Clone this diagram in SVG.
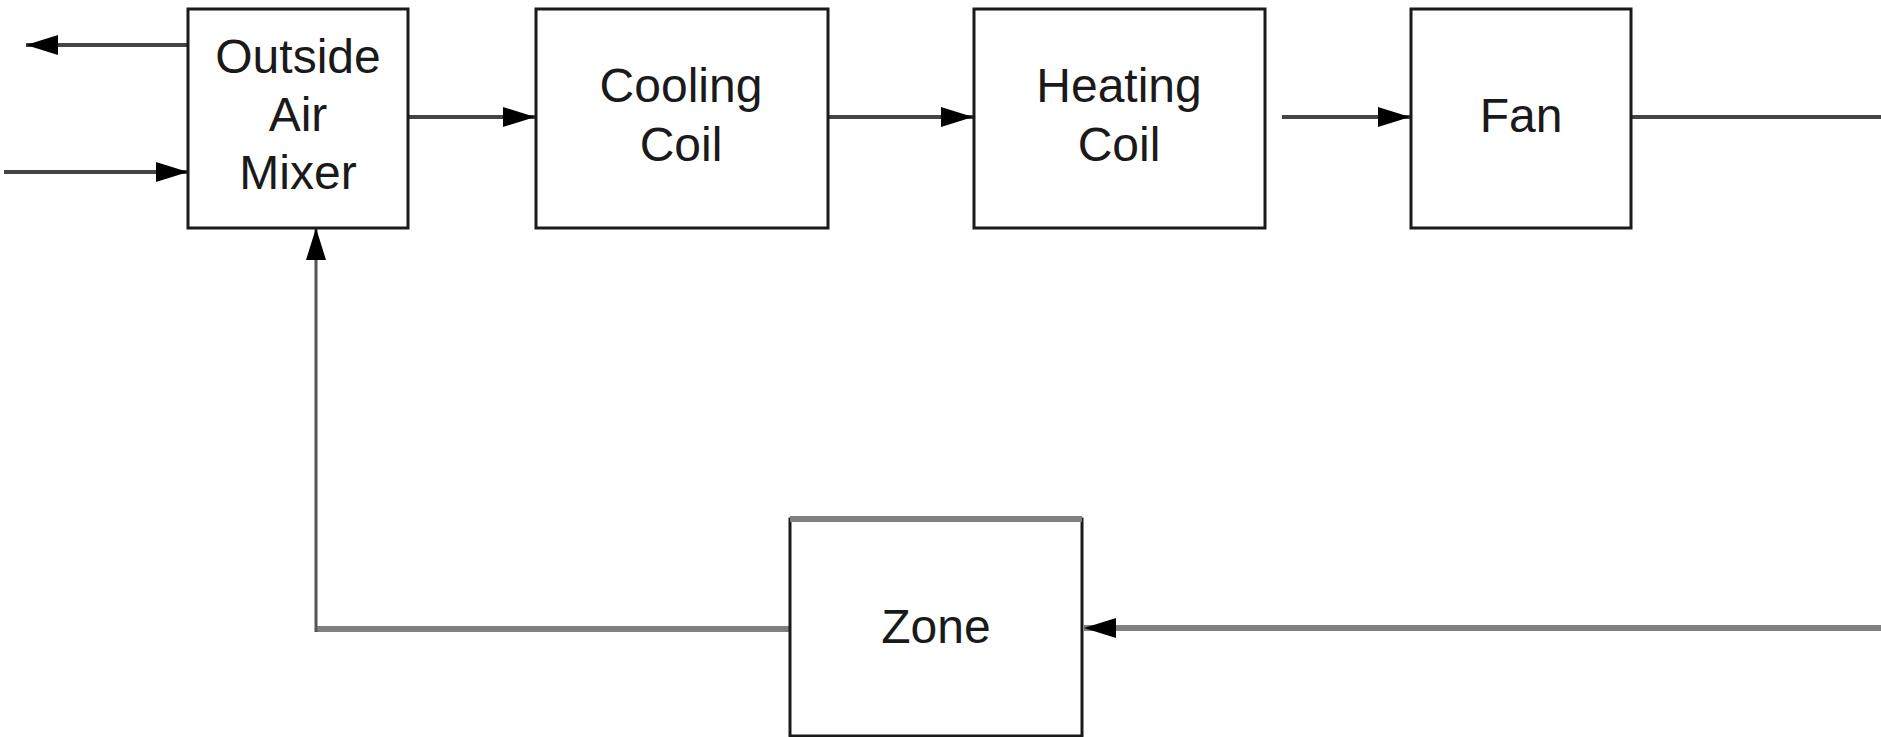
<svg xmlns="http://www.w3.org/2000/svg" width="1881" height="737" viewBox="0 0 1881 737">
<style>
.box{fill:#fff;stroke:#1a1a1a;stroke-width:3}
.hl{stroke:#bbb;stroke-width:2}
.lbl{font-family:"Liberation Sans",Arial,sans-serif;font-size:48px;fill:#1a1a1a;text-anchor:middle}
.c{fill:none;stroke:#444;stroke-width:4}
.g{fill:none;stroke:#808080;stroke-width:6}
.gv{fill:none;stroke:#555;stroke-width:3}
</style>
<defs>
<marker id="ah" viewBox="0 0 32 20" refX="32" refY="10" markerWidth="32" markerHeight="20" markerUnits="userSpaceOnUse" orient="auto">
<path d="M0,0 L32,10 L0,20 Z" fill="#000"/>
</marker>
</defs>
<rect width="1881" height="737" fill="#fff"/>
<g id="connectors">
<line class="c" x1="188" y1="45" x2="26" y2="45" marker-end="url(#ah)"/>
<line class="c" x1="4" y1="172" x2="188" y2="172" marker-end="url(#ah)"/>
<line class="c" x1="408" y1="117" x2="535" y2="117" marker-end="url(#ah)"/>
<line class="c" x1="828" y1="117" x2="973" y2="117" marker-end="url(#ah)"/>
<line class="c" x1="1282" y1="117" x2="1410" y2="117" marker-end="url(#ah)"/>
<line class="c" x1="1631" y1="117" x2="1881" y2="117"/>
<line class="g" x1="1881" y1="628" x2="1084" y2="628" marker-end="url(#ah)"/>
<path class="g" d="M790,629 H316"/>
<path class="gv" d="M316,632 V228" marker-end="url(#ah)"/>
</g>
<g id="outside-air-mixer">
<rect class="box" x="188" y="9" width="220" height="219"/>
<text class="lbl" x="298" y="73">Outside</text>
<text class="lbl" x="298" y="131">Air</text>
<text class="lbl" x="298" y="189">Mixer</text>
</g>
<g id="cooling-coil">
<rect class="box" x="536" y="9" width="292" height="219"/>
<text class="lbl" x="681" y="102">Cooling</text>
<text class="lbl" x="681" y="161">Coil</text>
</g>
<g id="heating-coil">
<rect class="box" x="974" y="9" width="291" height="219"/>
<text class="lbl" x="1119" y="102">Heating</text>
<text class="lbl" x="1119" y="161">Coil</text>
</g>
<g id="fan">
<rect class="box" x="1411" y="9" width="220" height="219"/>
<text class="lbl" x="1521" y="132">Fan</text>
</g>
<g id="zone">
<rect class="box" x="790" y="519" width="292" height="217"/>
<line x1="790" y1="519" x2="1082" y2="519" stroke="#808080" stroke-width="6"/>
<text class="lbl" x="936" y="643">Zone</text>
</g>
</svg>
